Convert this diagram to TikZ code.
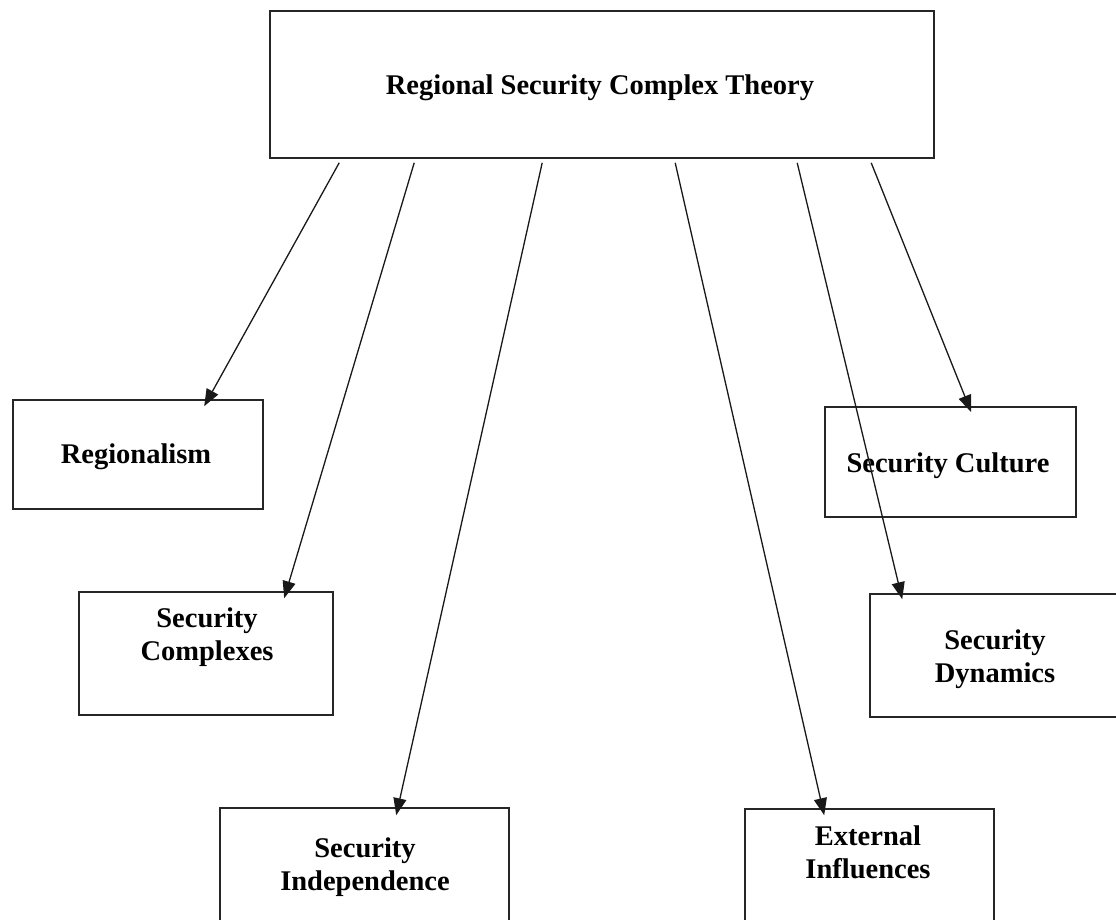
\documentclass[tikz,border=0pt]{standalone}
\usepackage{fontspec}
\setmainfont{Liberation Serif}
\usetikzlibrary{calc,arrows.meta}
\begin{document}
\begin{tikzpicture}[x=1pt,y=-1pt,
  box/.style={draw=black!85,line width=1.6pt,rectangle,inner sep=0pt},
  lbl/.style={align=center,font=\fontsize{28.5}{33}\selectfont\bfseries,inner sep=0pt},
  arr/.style={draw=black!90,line width=1.3pt,-{Triangle[length=17pt,width=13pt]}}]
\fill[white] (0,0) rectangle (1116,919);
\useasboundingbox (0,0) rectangle (1116,919);
% boxes
\node[box,minimum width=664pt,minimum height=147pt] (top) at (602,84.5) {};
\node[box,minimum width=250pt,minimum height=109pt] (reg) at (138,454.5) {};
\node[box,minimum width=254pt,minimum height=123pt] (comp) at (206,653.5) {};
\node[box,minimum width=289pt,minimum height=152pt] (indep) at (364.5,884) {};
\node[box,minimum width=249pt,minimum height=151pt] (ext) at (869.5,884.5) {};
\node[box,minimum width=251pt,minimum height=110pt] (cult) at (950.5,462) {};
\node[box,minimum width=270pt,minimum height=123pt] (dyn) at (1005,655.5) {};
% labels
\node[lbl] (ttop) at (600,88) {Regional Security Complex Theory};
\node[lbl] (treg) at (136,457) {Regionalism};
\node[lbl] (tcomp) at (207,637) {Security\\Complexes};
\node[lbl] (tindep) at (365,867) {Security\\Independence};
\node[lbl] (text) at (868,852) {External\\Influences};
\node[lbl] (tcult) at (948,466) {Security Culture};
\node[lbl] (tdyn) at (995,659) {Security\\Dynamics};
% arrows
\draw[arr] ($(top.south west)+(70,4)$) -- ($(reg.north west)+(192,7)$);
\draw[arr] ($(top.south west)+(145,4)$) -- ($(comp.north west)+(206,7)$);
\draw[arr] ($(top.south west)+(273,4)$) -- ($(indep.north west)+(177,8)$);
\draw[arr] ($(top.south west)+(406,4)$) -- ($(ext.north west)+(80,7)$);
\draw[arr] ($(top.south west)+(528,4)$) -- ($(dyn.north west)+(33,6)$);
\draw[arr] ($(top.south west)+(602,4)$) -- ($(cult.north west)+(147,6)$);
\end{tikzpicture}
\end{document}
